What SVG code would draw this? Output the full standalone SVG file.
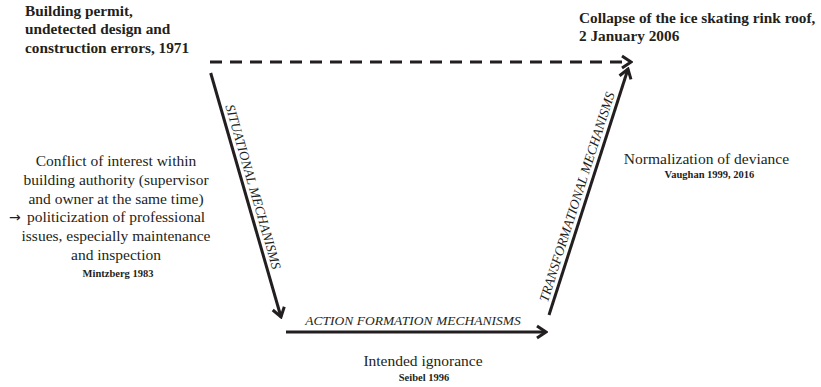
<svg xmlns="http://www.w3.org/2000/svg" width="821" height="387" viewBox="0 0 821 387">
<style>
.t{font-family:"Liberation Serif","Times New Roman",serif;fill:#231f20}
.b{font-weight:bold;font-size:15.3px}
.r{font-size:15.5px}
.s{font-weight:bold;font-size:10.5px}
.i{font-style:italic;font-size:13.5px}
.ln{stroke:#231f20;stroke-width:3;fill:none}
.arr{font-family:"DejaVu Sans",sans-serif;font-size:14px;fill:#231f20}
</style>
<defs>
<marker id="ah" viewBox="-12 -8 14 16" refX="0" refY="0" markerWidth="14" markerHeight="16" markerUnits="userSpaceOnUse" orient="auto">
<path d="M-9,-6 L0,0 L-9,6" fill="none" stroke="#231f20" stroke-width="3"/>
</marker>
</defs>
<rect width="821" height="387" fill="#fff"/>
<g id="connectors">
<line class="ln" x1="210" y1="62" x2="631" y2="62" stroke-dasharray="12 8" marker-end="url(#ah)"/>
<line class="ln" x1="210.7" y1="73" x2="281" y2="317" marker-end="url(#ah)"/>
<line class="ln" x1="286" y1="332" x2="546" y2="332" marker-end="url(#ah)"/>
<line class="ln" x1="549" y1="315" x2="628" y2="69" marker-end="url(#ah)"/>
<text class="t i" text-anchor="middle" transform="translate(248.9,187.9) rotate(73.97)">SITUATIONAL MECHANISMS</text>
<text class="t i" text-anchor="middle" x="413" y="325">ACTION FORMATION MECHANISMS</text>
<text class="t i" text-anchor="middle" transform="translate(581.2,198.3) rotate(-72.2)">TRANSFORMATIONAL MECHANISMS</text>
</g>
<g id="start">
<text class="t b" x="25" y="16">Building permit,</text>
<text class="t b" x="25" y="34.3">undetected design and</text>
<text class="t b" x="25" y="52.6">construction errors, 1971</text>
</g>
<g id="collapse">
<text class="t b" x="579" y="22.5">Collapse of the ice skating rink roof,</text>
<text class="t b" x="579" y="40.6">2 January 2006</text>
</g>
<g id="situational">
<text class="t r" text-anchor="middle" x="116" y="166">Conflict of interest within</text>
<text class="t r" text-anchor="middle" x="116" y="184.8">building authority (supervisor</text>
<text class="t r" text-anchor="middle" x="116" y="203.6">and owner at the same time)</text>
<text class="arr" x="9" y="222.4">→</text>
<text class="t r" text-anchor="middle" x="116" y="222.4">politicization of professional</text>
<text class="t r" text-anchor="middle" x="116" y="241.2">issues, especially maintenance</text>
<text class="t r" text-anchor="middle" x="116" y="260">and inspection</text>
<text class="t s" text-anchor="middle" x="118" y="277">Mintzberg 1983</text>
</g>
<g id="action">
<text class="t r" text-anchor="middle" x="423" y="366">Intended ignorance</text>
<text class="t s" text-anchor="middle" x="424" y="381">Seibel 1996</text>
</g>
<g id="transformational">
<text class="t r" text-anchor="middle" x="706.5" y="164">Normalization of deviance</text>
<text class="t s" text-anchor="middle" x="709.5" y="178">Vaughan 1999, 2016</text>
</g>
</svg>
